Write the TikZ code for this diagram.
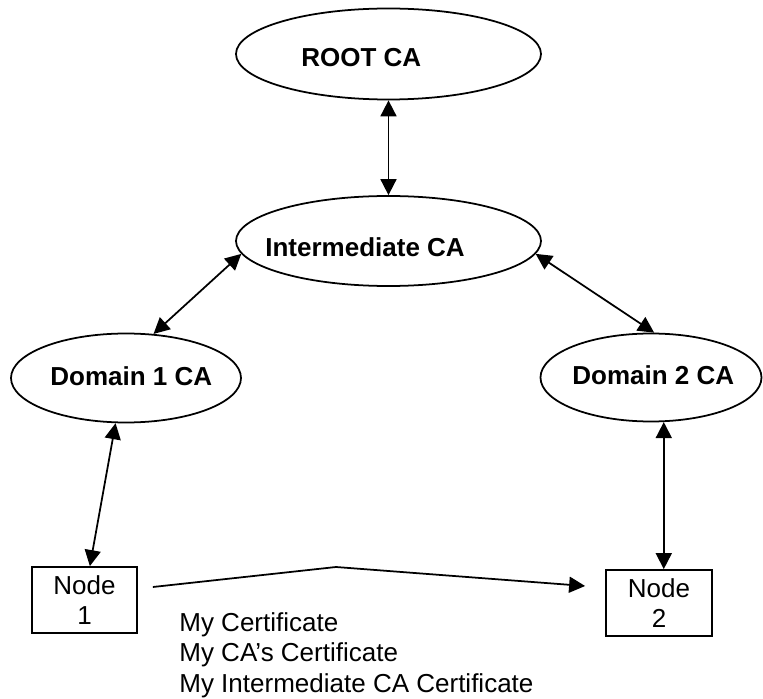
\documentclass[tikz,border=0pt]{standalone}
\usepackage{fontspec}
\setmainfont{Liberation Sans}
\usetikzlibrary{arrows.meta,shapes.geometric}
\tikzset{
    EL/.style ={ellipse, draw, line width=1pt, inner sep=0pt},
    RA/.style ={rectangle, draw, line width=1pt, align=center, inner sep=0pt},
    LB/.style ={anchor=base west, inner sep=0pt, font=\fontsize{14.8}{17.4}\selectfont\bfseries},
    AR/.style ={line width=1pt}}

\begin{document}
\begin{tikzpicture}[>={Triangle[length=0.32cm,width=0.32cm]},
        every node/.append style={font=\fontsize{14.8}{17.4}\selectfont}]
        \useasboundingbox (0,0) rectangle (15.26,13.96);
        % CA hierarchy
        \node[EL, minimum width=6.10cm, minimum height=1.82cm] (root) at (7.77,12.88) {};
        \node[EL, minimum width=6.10cm, minimum height=1.80cm] (inter) at (7.77,9.14) {};
        \node[EL, minimum width=4.60cm, minimum height=1.78cm] (dom1) at (2.52,6.40) {};
        \node[EL, minimum width=4.42cm, minimum height=1.76cm] (dom2) at (13.02,6.41) {};
        \node[LB] (rootlbl) at (6.02,12.62) {ROOT CA};
        \node[LB] (interlbl) at (5.30,8.82) {Intermediate CA};
        \node[LB] (dom1lbl) at (1.00,6.24) {Domain 1 CA};
        \node[LB] (dom2lbl) at (11.44,6.26) {Domain 2 CA};
        % end nodes
        \node[RA, minimum width=2.10cm, minimum height=1.32cm] (node1) at (1.69,1.96) {Node\\1};
        \node[RA, minimum width=2.12cm, minimum height=1.32cm] (node2) at (13.18,1.90) {Node\\2};
        \coordinate (bend) at (6.72,2.62);
        \node[anchor=north west, align=left, inner sep=0pt] (certs) at (3.58,1.72)
            {My Certificate\\My CA's Certificate\\My Intermediate CA Certificate};
        % links
        \draw[AR,<->] (root) -- (inter);
        \draw[AR,<->] (inter.185) -- (dom1.58);
        \draw[AR,<->] (inter.355) -- (dom2.86);
        \draw[AR,<->] (dom1.257) -- (node1.81);
        \draw[AR,<->] (dom2.286) -- (dom2.286 |- node2.north);
        \draw[AR,->] ([shift={(0.3,0.26)}]node1.east) -- (bend) -- ([shift={(-0.4,0.34)}]node2.west);
    \end{tikzpicture}
\end{document}
